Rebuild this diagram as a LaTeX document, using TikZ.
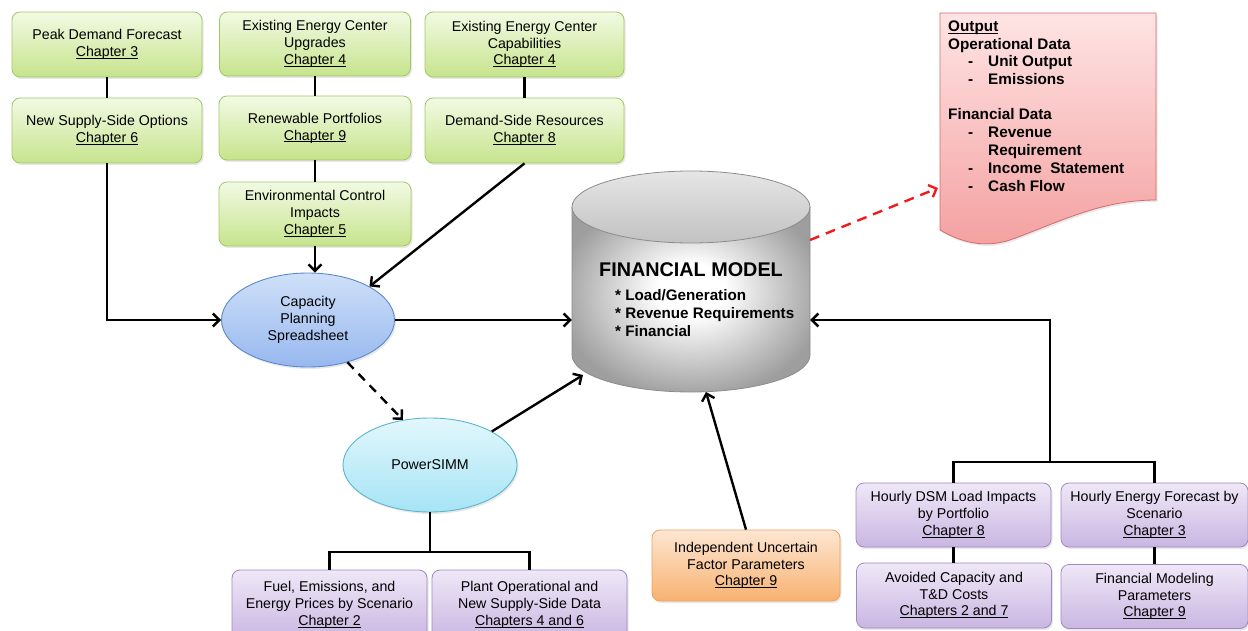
\documentclass[tikz,border=0pt]{standalone}
\usepackage{fontspec}
\setmainfont{Liberation Sans}
\usetikzlibrary{shapes.geometric,arrows.meta,shadows}
\definecolor{gtop}{HTML}{F2FAE4}
\definecolor{gbot}{HTML}{C6E48C}
\definecolor{gbd}{HTML}{A3C766}
\definecolor{ptop}{HTML}{EFE8F7}
\definecolor{pbot}{HTML}{C9B6E2}
\definecolor{pbd}{HTML}{9F89C0}
\definecolor{otop}{HTML}{FDE6D2}
\definecolor{obot}{HTML}{F8B271}
\definecolor{obd}{HTML}{F0A15A}
\definecolor{btop}{HTML}{CFE0F8}
\definecolor{bbot}{HTML}{97B8EF}
\definecolor{bbd}{HTML}{5A89CF}
\definecolor{ctop}{HTML}{E2F7FC}
\definecolor{cbot}{HTML}{A6E4F5}
\definecolor{cbd}{HTML}{5BB6CF}
\definecolor{rtop}{HTML}{FFE4E4}
\definecolor{rbot}{HTML}{F4A0A0}
\definecolor{rbd}{HTML}{D66A6A}
\definecolor{cylb}{HTML}{8C8C8C}
\definecolor{darr}{HTML}{EE1C1C}
\pgfdeclareradialshading{cylshade}{\pgfpoint{0bp}{3bp}}{color(0bp)=(white); color(7bp)=(white); color(28bp)=(black!38); color(50bp)=(black!40)}
\newcommand\chap[1]{\setbox0\hbox{#1}\leavevmode\rlap{\rule[-1.8pt]{\wd0}{0.7pt}}\box0}
\newcommand\bxfont{\fontsize{14.2}{16.8}\selectfont}
\begin{document}
\begin{tikzpicture}[x=1pt,y=-1pt,
  box/.style={draw, rounded corners=8pt, line width=0.8pt, align=center, inner sep=1pt, font=\bxfont,
    drop shadow={shadow xshift=1.5pt, shadow yshift=-2pt, opacity=0.18}},
  gbox/.style={box, draw=gbd, top color=gtop, bottom color=gbot},
  pbox/.style={box, draw=pbd, top color=ptop, bottom color=pbot},
  obox/.style={box, draw=obd, top color=otop, bottom color=obot},
  ell/.style={ellipse, draw, line width=0.9pt, align=center, inner sep=0pt, font=\bxfont,
    drop shadow={shadow xshift=1.5pt, shadow yshift=-2pt, opacity=0.18}},
  ln/.style={line width=2.4pt},
  arr/.style={line width=2.4pt, -{Straight Barb[length=6.5pt,width=13pt]}},
  dline/.style={line width=2.4pt, dash pattern=on 9pt off 7pt, -{Straight Barb[length=6.5pt,width=13pt]}},
  rline/.style={line width=2.4pt, draw=darr, dash pattern=on 10pt off 7pt, -{Straight Barb[length=6.5pt,width=13pt]}},
  otxt/.style={anchor=base west, inner sep=0pt, font=\fontsize{15.3}{17}\selectfont\bfseries},
  btxt/.style={anchor=base west, inner sep=0pt, font=\fontsize{15.2}{17}\selectfont\bfseries}
]
\useasboundingbox (0,0) rectangle (1248,631);

% green boxes
\node[gbox, minimum width=190pt, minimum height=65pt] (peak) at (107,44.5) {Peak Demand Forecast\\\chap{Chapter 3}};
\node[gbox, minimum width=190pt, minimum height=65pt] (newsup) at (107,130.5) {New Supply-Side Options\\\chap{Chapter 6}};
\node[gbox, minimum width=191pt, minimum height=64pt] (upg) at (315,44) {Existing Energy Center\\Upgrades\\\chap{Chapter 4}};
\node[gbox, minimum width=192pt, minimum height=64pt] (ren) at (315,128) {Renewable Portfolios\\\chap{Chapter 9}};
\node[gbox, minimum width=192pt, minimum height=64pt] (env) at (315,214) {Environmental Control\\Impacts\\\chap{Chapter 5}};
\node[gbox, minimum width=199pt, minimum height=65pt] (capab) at (524.5,44.5) {Existing Energy Center\\Capabilities\\\chap{Chapter 4}};
\node[gbox, minimum width=199pt, minimum height=65pt] (dsr) at (524.5,130.5) {Demand-Side Resources\\\chap{Chapter 8}};

% ellipses
\node[ell, draw=bbd, top color=btop, bottom color=bbot, minimum width=173pt, minimum height=94pt] (cps) at (308,320) {Capacity\\Planning\\Spreadsheet};
\node[ell, draw=cbd, top color=ctop, bottom color=cbot, minimum width=174pt, minimum height=94pt] (psimm) at (430,465) {PowerSIMM};

% cylinder
\path[draw=cylb, line width=0.8pt, shading=cylshade] (572,207) -- (572,355)
  arc[start angle=180, end angle=0, x radius=119, y radius=37] -- (810,207) -- cycle;
\path[draw=cylb, line width=0.8pt, top color=black!10, bottom color=black!24] (691,207) ellipse[x radius=119, y radius=36];
\node[inner sep=0pt, minimum width=238pt, minimum height=148pt] (fm) at (691,281) {};
\node[font=\fontsize{19.8}{22}\selectfont\bfseries, inner sep=0pt] (fmt) at (691,270) {FINANCIAL MODEL};
\node[btxt] (fmb1) at (615,301) {* Load/Generation};
\node[btxt] (fmb2) at (615,318.5) {* Revenue Requirements};
\node[btxt] (fmb3) at (615,336) {* Financial};
\coordinate (fmpin) at (583,375);
\coordinate (fmind) at (706,392);
\coordinate (fmout) at (810,240);

% output document
\path[draw=rbd, line width=0.8pt, top color=rtop, bottom color=rbot,
  drop shadow={shadow xshift=1.5pt, shadow yshift=-2pt, opacity=0.18}]
  (940,13) -- (1156,13) -- (1156,200)
  .. controls (1100,200) and (1060,222) .. (1010,240)
  .. controls (985,248) and (962,243) .. (940,230) -- cycle;
\coordinate (docin) at (938,188);
\node[otxt] (o1) at (948,32) {\chap{Output}};
\node[otxt] (o2) at (948,49.5) {Operational Data};
\node[otxt] (o3d) at (968,67) {-};
\node[otxt] (o3) at (988,67) {Unit Output};
\node[otxt] (o4d) at (968,85) {-};
\node[otxt] (o4) at (988,85) {Emissions};
\node[otxt] (o5) at (948,120) {Financial Data};
\node[otxt] (o6d) at (968,138) {-};
\node[otxt] (o6) at (988,138) {Revenue};
\node[otxt] (o7) at (988,156) {Requirement};
\node[otxt] (o8d) at (968,174) {-};
\node[otxt] (o8) at (988,174) {Income\ \ Statement};
\node[otxt] (o9d) at (968,192) {-};
\node[otxt] (o9) at (988,192) {Cash Flow};

% bottom boxes
\node[pbox, minimum width=195pt, minimum height=70pt] (fuel) at (329.5,605) {Fuel, Emissions, and\\Energy Prices by Scenario\\\chap{Chapter 2}};
\node[pbox, minimum width=195pt, minimum height=70pt] (plant) at (529.5,605) {Plant Operational and\\New Supply-Side Data\\\chap{Chapters 4 and 6}};
\node[obox, minimum width=188pt, minimum height=71pt] (ind) at (746,565.5) {Independent Uncertain\\Factor Parameters\\\chap{Chapter 9}};
\node[pbox, minimum width=195pt, minimum height=64pt] (dsm) at (953.5,515) {Hourly DSM Load Impacts\\by Portfolio\\\chap{Chapter 8}};
\node[pbox, minimum width=187pt, minimum height=64pt] (hef) at (1154.5,515) {Hourly Energy Forecast by\\Scenario\\\chap{Chapter 3}};
\node[pbox, minimum width=195pt, minimum height=65pt] (avo) at (954,595.5) {Avoided Capacity and\\T\&D Costs\\\chap{Chapters 2 and 7}};
\node[pbox, minimum width=187pt, minimum height=64pt] (finm) at (1154.5,596.5) {Financial Modeling\\Parameters\\\chap{Chapter 9}};

% connectors
\draw[ln] (peak.south) -- (newsup.north);
\draw[ln] (upg.south) -- (ren.north);
\draw[ln] (ren.south) -- (env.north);
\draw[ln] (capab.south) -- (dsr.north);
\draw[ln] (dsm.south) -- (avo.north -| dsm.south);
\draw[ln] (hef.south) -- (finm.north -| hef.south);

\draw[arr] (newsup.south) |- (cps.west);
\draw[arr] (env.south) -- (env.south |- cps.north);
\draw[arr] (dsr.south) -- (cps.north east);
\draw[arr] (cps.east) -- (fm.west |- cps.east);
\draw[dline] (cps.-47) -- (psimm.121);
\draw[arr] (psimm.north east) -- (fmpin);
\draw[arr] (ind.north) -- (fmind);
\draw[rline] (fmout) -- (docin);

\coordinate (pj) at (430,552);
\draw[ln] (psimm.south) -- (pj);
\draw[ln] (fuel.north) |- (pj) -| (plant.north);

\coordinate (rj) at (1050,462);
\draw[ln] (dsm.north) |- (rj) -| (hef.north);
\draw[arr] (rj) |- (fm.east |- cps.east);
\end{tikzpicture}
\end{document}
